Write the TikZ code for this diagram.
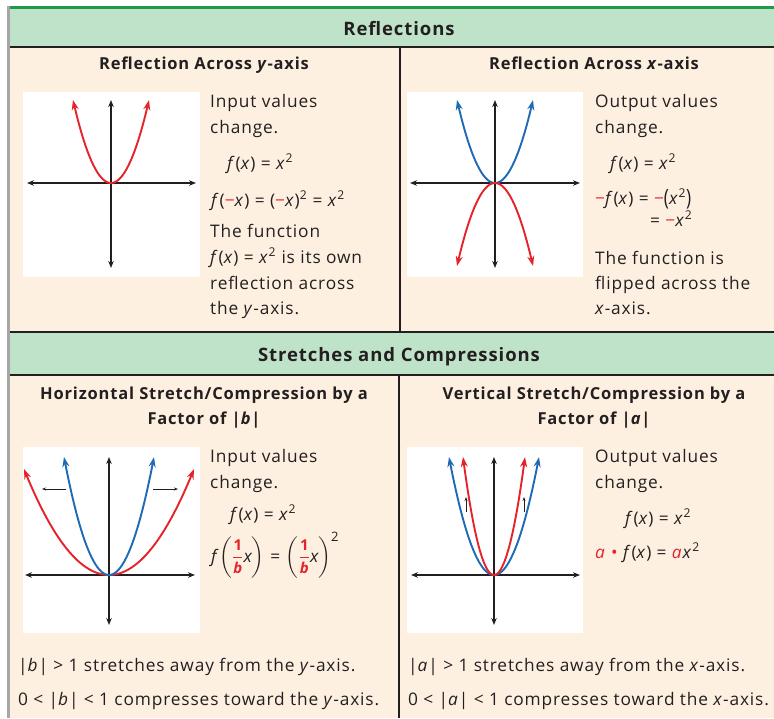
\documentclass[tikz,border=0pt]{standalone}
\usepackage{amsmath}
\usepackage{fontspec}
\setmainfont{Open Sans}[LetterSpace=5]
\usetikzlibrary{arrows.meta}
\definecolor{hdr}{HTML}{BFE3C9}
\definecolor{hdrline}{HTML}{1E9A4A}
\definecolor{panel}{HTML}{FDF0E1}
\definecolor{cred}{HTML}{E4232B}
\definecolor{cblue}{HTML}{1E6AB4}
\definecolor{ink}{HTML}{231F20}
\newcommand\ita[1]{\textit{#1}}
\newcommand\sq{\textsuperscript{2}}
\newcommand\mns{−}
\newcommand\bigpar[1]{\raisebox{-1.5pt}{\scalebox{1}[1.3]{#1}}}
\newcommand\rfrac{{\color{cred}\dfrac{\text{\fontsize{15}{15}\selectfont\bfseries 1}}{\text{\fontsize{15}{15}\selectfont\bfseries\itshape b}}}}
\tikzset{
  txt/.style={anchor=base west, inner sep=0pt, text=ink, font=\fontsize{17.3}{20}\selectfont},
  ttl/.style={anchor=base, inner sep=0pt, text=ink, font=\bfseries\fontsize{16.5}{20}\selectfont},
  hd/.style={anchor=base, inner sep=0pt, text=ink, font=\bfseries\fontsize{18.5}{22}\selectfont},
  ax/.style={draw=ink, line width=1.3pt, {Stealth[length=7pt,width=5.5pt]}-{Stealth[length=7pt,width=5.5pt]}},
  crv/.style={line width=1.9pt, {Stealth[length=10pt,width=7pt]}-{Stealth[length=10pt,width=7pt]}},
  small/.style={draw=ink, line width=0.6pt, -{Stealth[length=4pt,width=3pt]}},
  gbox/.style={fill=white, draw=none},
  rule/.style={draw=ink, line width=1.6pt},
}
\begin{document}
\begin{tikzpicture}[x=1pt, y=-1pt]
\useasboundingbox (0,0) rectangle (774,718);
\fill[white] (0,0) rectangle (774,718);
% backgrounds
\fill[panel] (9,47) rectangle (774,718);
\fill[hdr] (9,8) rectangle (774,47);
\fill[hdr] (9,332) rectangle (774,375);
\fill[hdrline] (9,6) rectangle (774,9);
\draw[rule] (9,47) -- (774,47);
\draw[rule] (9,332) -- (774,332);
\draw[rule] (9,375) -- (774,375);
\draw[rule] (400,47) -- (400,332);
\draw[rule] (399,375) -- (399,718);
\fill[gray!70] (7,6) rectangle (9.5,718);

% headers
\node[hd] (h1) at (399,35) {Reflections};
\node[hd] (h2) at (399,361) {Stretches and Compressions};

% ---------- panel 1 ----------
\node[ttl] (t1) at (204,69) {Reflection Across \ita{y}-axis};
\fill[gbox] (23,92) rectangle (200,277);
\draw[ax] (27,183) -- (196,183);
\draw[ax] (111,268) -- (111,100);
\draw[crv, cred] plot[domain=-1:1, samples=60, smooth] ({111+38*\x},{183-83*\x*\x});
\node[txt] (p1a) at (210,107) {Input values};
\node[txt] (p1b) at (210,133) {change.};
\node[txt] (p1c) at (227,169) {\ita{f}(\ita{x}) = \ita{x}\sq};
\node[txt] (p1d) at (211,206) {\ita{f}(\textcolor{cred}{\mns}\ita{x}) = (\textcolor{cred}{\mns}\ita{x})\sq{} = \ita{x}\sq};
\node[txt] (p1e) at (210,237) {The function};
\node[txt] (p1f) at (210,263) {\ita{f}(\ita{x}) = \ita{x}\sq{} is its own};
\node[txt] (p1g) at (210,289) {reflection across};
\node[txt] (p1h) at (210,314) {the \ita{y}-axis.};

% ---------- panel 2 ----------
\node[ttl] (t2) at (594,69) {Reflection Across \ita{x}-axis};
\fill[gbox] (407,92) rectangle (583,277);
\draw[ax] (410,183) -- (580,183);
\draw[ax] (495,268) -- (495,100);
\draw[crv, cblue] plot[domain=-1:1, samples=60, smooth] ({495+38*\x},{183-83*\x*\x});
\draw[crv, cred] plot[domain=-1:1, samples=60, smooth] ({495+38*\x},{183+83*\x*\x});
\node[txt] (p2a) at (595,107) {Output values};
\node[txt] (p2b) at (595,133) {change.};
\node[txt] (p2c) at (610,169) {\ita{f}(\ita{x}) = \ita{x}\sq};
\node[txt] (p2d) at (595,204) {\textcolor{cred}{\mns}\ita{f}(\ita{x}) = \textcolor{cred}{\mns}\bigpar{(}\ita{x}\sq\bigpar{)}};
\node[txt] (p2e) at (650,226) {= \textcolor{cred}{\mns}\ita{x}\sq};
\node[txt] (p2f) at (595,264) {The function is};
\node[txt] (p2g) at (595,289) {flipped across the};
\node[txt] (p2h) at (595,314) {\ita{x}-axis.};

% ---------- panel 3 ----------
\node[ttl] (t3a) at (204,399) {Horizontal Stretch/Compression by a};
\node[ttl] (t3b) at (204,424) {Factor of |\ita{b}|};
\fill[gbox] (23,447) rectangle (200,633);
\draw[ax] (25,575) -- (195,575);
\draw[ax] (109,625) -- (109,457);
\draw[crv, cred] plot[domain=-1:1, samples=80, smooth] ({109+85*\x},{575-106*\x*\x});
\draw[crv, cblue] plot[domain=-1:1, samples=60, smooth] ({109+45*\x},{575-118*\x*\x});
\coordinate (l3s) at (66,489); \coordinate (l3e) at (42,489);
\coordinate (r3s) at (153,489); \coordinate (r3e) at (178,489);
\draw[small] (l3s) -- (l3e);
\draw[small] (r3s) -- (r3e);
\node[txt] (p3a) at (210,462) {Input values};
\node[txt] (p3b) at (210,488) {change.};
\node[txt] (p3c) at (230,520) {\ita{f}(\ita{x}) = \ita{x}\sq};
\node[txt] (p3d) at (211,562) {$\text{\itshape f}\left(\rfrac\text{\itshape x}\right)\,\text{=}\,\left(\rfrac\text{\itshape x}\right)^{\text{\fontsize{13}{13}\selectfont 2}}$};
\node[txt] (p3e) at (18,671) {|\ita{b}| > 1 stretches away from the \ita{y}-axis.};
\node[txt] (p3f) at (18,705) {0 < |\ita{b}| < 1 compresses toward the \ita{y}-axis.};

% ---------- panel 4 ----------
\node[ttl] (t4a) at (594,399) {Vertical Stretch/Compression by a};
\node[ttl] (t4b) at (594,424) {Factor of |\ita{a}|};
\fill[gbox] (407,447) rectangle (583,633);
\draw[ax] (411,575) -- (580,575);
\draw[ax] (494,625) -- (494,457);
\draw[crv, cblue] plot[domain=-1:1, samples=60, smooth] ({494+45*\x},{575-118*\x*\x});
\draw[crv, cred] plot[domain=-1:1, samples=60, smooth] ({494+31*\x},{575-118*\x*\x});
\coordinate (l4s) at (466,512); \coordinate (l4e) at (466,497);
\coordinate (r4s) at (524,512); \coordinate (r4e) at (524,497);
\draw[small] (l4s) -- (l4e);
\draw[small] (r4s) -- (r4e);
\node[txt] (p4a) at (595,462) {Output values};
\node[txt] (p4b) at (595,488) {change.};
\node[txt] (p4c) at (625,524) {\ita{f}(\ita{x}) = \ita{x}\sq};
\node[txt] (p4d) at (595,558) {\textcolor{cred}{\ita{a} •} \ita{f}(\ita{x}) = \textcolor{cred}{\ita{a}}\ita{x}\sq};
\node[txt] (p4e) at (408,671) {|\ita{a}| > 1 stretches away from the \ita{x}-axis.};
\node[txt] (p4f) at (408,705) {0 < |\ita{a}| < 1 compresses toward the \ita{x}-axis.};
\end{tikzpicture}
\end{document}
